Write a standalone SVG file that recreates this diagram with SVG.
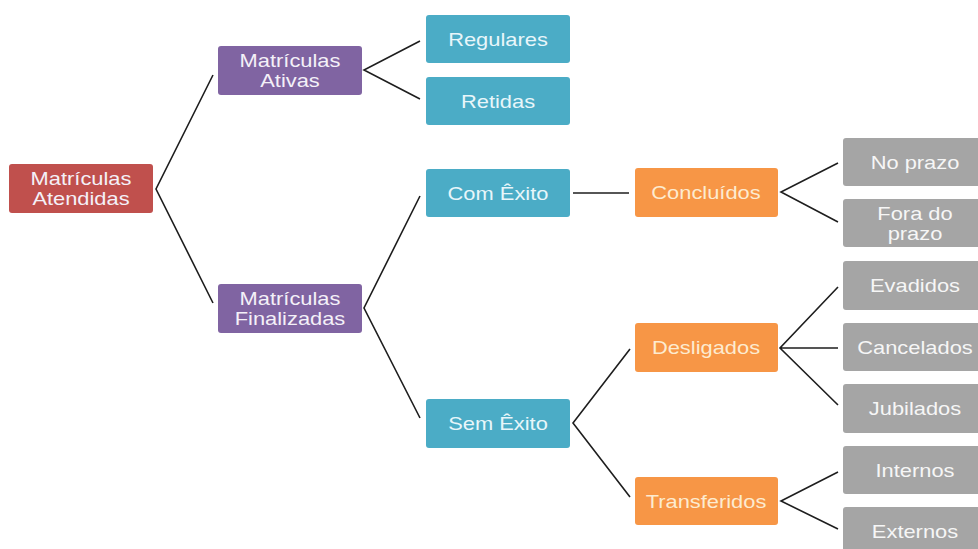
<svg xmlns="http://www.w3.org/2000/svg" width="978" height="549" viewBox="0 0 978 549">
<style>
.red{fill:#C0504D}
.pur{fill:#8064A2}
.teal{fill:#4BACC6}
.org{fill:#F79646}
.gry{fill:#A5A5A5}
text{font-family:"Liberation Sans",Arial,sans-serif;font-size:17.5px;text-anchor:middle}
.tw{fill:#F4F0F8}
.tt{fill:#E8F6FA}
.to{fill:#FDEBD0}
.tg{fill:#F6F6F6}
.c{fill:none;stroke:#1E1E1E;stroke-width:1.6;stroke-linejoin:miter}
</style>
<rect width="978" height="549" fill="#FFFFFF"/>
<g id="connectors">
<path class="c" d="M213,75 L156,189 L213,303"/>
<path class="c" d="M420,41 L364,70 L420,99"/>
<path class="c" d="M420,196 L364,308 L420,418"/>
<path class="c" d="M573,193 L629,193"/>
<path class="c" d="M838,163 L781,192 L838,222"/>
<path class="c" d="M630,349 L573,423 L630,497"/>
<path class="c" d="M838,287 L780,348 L838,405 M780,348 L838,348"/>
<path class="c" d="M838,472 L781,501 L838,529"/>
</g>
<g id="atendidas">
<rect class="red" x="9" y="164" width="144" height="49" rx="3"/>
<text class="tw" transform="translate(81,185) scale(1.25,1)">Matrículas</text>
<text class="tw" transform="translate(81,205) scale(1.25,1)">Atendidas</text>
</g>
<g id="ativas">
<rect class="pur" x="218" y="46" width="144" height="49" rx="3"/>
<text class="tw" transform="translate(290,67) scale(1.25,1)">Matrículas</text>
<text class="tw" transform="translate(290,87) scale(1.25,1)">Ativas</text>
</g>
<g id="finalizadas">
<rect class="pur" x="218" y="284" width="144" height="49" rx="3"/>
<text class="tw" transform="translate(290,305) scale(1.25,1)">Matrículas</text>
<text class="tw" transform="translate(290,325) scale(1.25,1)">Finalizadas</text>
</g>
<g id="regulares">
<rect class="teal" x="426" y="15" width="144" height="48" rx="3"/>
<text class="tt" transform="translate(498,46) scale(1.25,1)">Regulares</text>
</g>
<g id="retidas">
<rect class="teal" x="426" y="77" width="144" height="48" rx="3"/>
<text class="tt" transform="translate(498,108) scale(1.25,1)">Retidas</text>
</g>
<g id="comexito">
<rect class="teal" x="426" y="169" width="144" height="48" rx="3"/>
<text class="tt" transform="translate(498,200) scale(1.25,1)">Com Êxito</text>
</g>
<g id="semexito">
<rect class="teal" x="426" y="399" width="144" height="49" rx="3"/>
<text class="tt" transform="translate(498,430) scale(1.25,1)">Sem Êxito</text>
</g>
<g id="concluidos">
<rect class="org" x="635" y="168" width="143" height="49" rx="3"/>
<text class="to" transform="translate(706,199) scale(1.25,1)">Concluídos</text>
</g>
<g id="desligados">
<rect class="org" x="635" y="323" width="143" height="49" rx="3"/>
<text class="to" transform="translate(706,354) scale(1.25,1)">Desligados</text>
</g>
<g id="transferidos">
<rect class="org" x="635" y="477" width="143" height="48" rx="3"/>
<text class="to" transform="translate(706,508) scale(1.25,1)">Transferidos</text>
</g>
<g id="noprazo">
<rect class="gry" x="843" y="138" width="145" height="48" rx="3"/>
<text class="tg" transform="translate(915,169) scale(1.25,1)">No prazo</text>
</g>
<g id="foradoprazo">
<rect class="gry" x="843" y="199" width="145" height="48" rx="3"/>
<text class="tg" transform="translate(915,220) scale(1.25,1)">Fora do</text>
<text class="tg" transform="translate(915,240) scale(1.25,1)">prazo</text>
</g>
<g id="evadidos">
<rect class="gry" x="843" y="261" width="145" height="49" rx="3"/>
<text class="tg" transform="translate(915,292) scale(1.25,1)">Evadidos</text>
</g>
<g id="cancelados">
<rect class="gry" x="843" y="323" width="145" height="48" rx="3"/>
<text class="tg" transform="translate(915,354) scale(1.25,1)">Cancelados</text>
</g>
<g id="jubilados">
<rect class="gry" x="843" y="384" width="145" height="49" rx="3"/>
<text class="tg" transform="translate(915,415) scale(1.25,1)">Jubilados</text>
</g>
<g id="internos">
<rect class="gry" x="843" y="446" width="145" height="48" rx="3"/>
<text class="tg" transform="translate(915,477) scale(1.25,1)">Internos</text>
</g>
<g id="externos">
<rect class="gry" x="843" y="507" width="145" height="48" rx="3"/>
<text class="tg" transform="translate(915,538) scale(1.25,1)">Externos</text>
</g>
</svg>
